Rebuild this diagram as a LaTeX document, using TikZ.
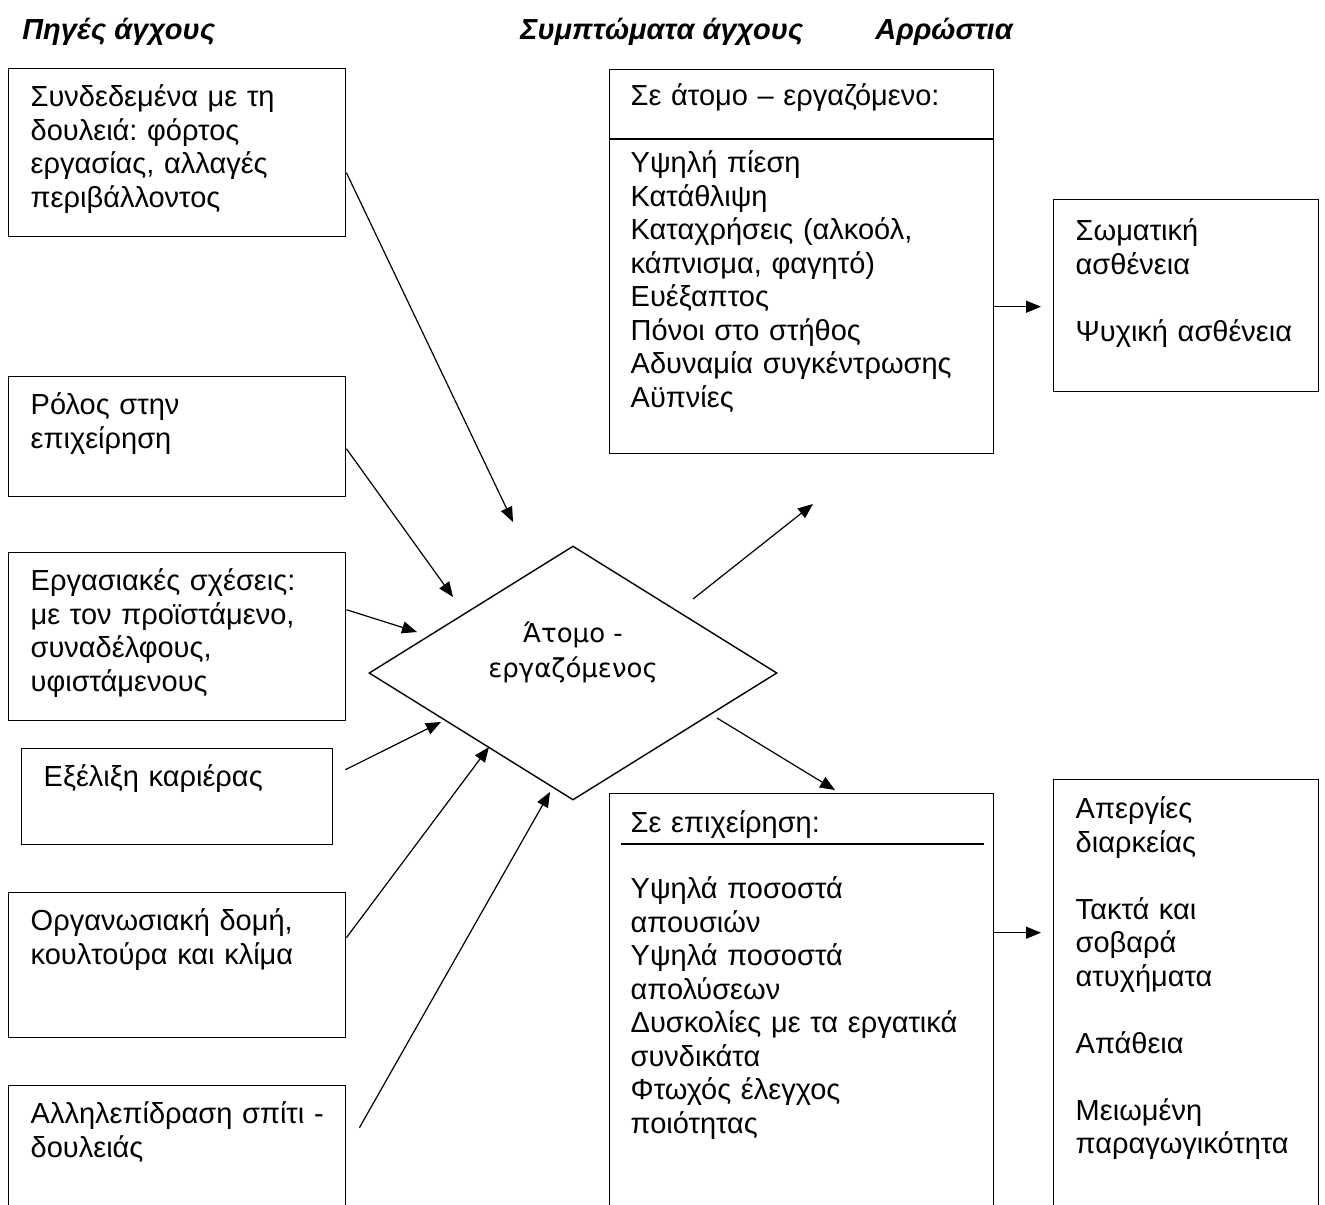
\documentclass[tikz,border=0pt]{standalone}
\usepackage{fontspec}
\setmainfont{Liberation Sans}
\newfontfamily\diamondfont{DejaVu Sans}
\usetikzlibrary{shapes.geometric, arrows.meta, calc}
\frenchspacing

\begin{document}
\begin{tikzpicture}[
    x=0.5pt, y=-0.5pt,
    every node/.style={font=\fontsize{14.5}{16.75}\selectfont},
    title/.style={anchor=base west, inner sep=0pt, font=\fontsize{14.5}{16.75}\selectfont\bfseries\itshape},
    source/.style={rectangle, draw=black, line width=0.7pt, anchor=north west, align=left, inner xsep=11pt, inner ysep=0pt, text width=146.5pt, text height=19pt},
    symptom/.style={rectangle, draw=black, line width=0.7pt, anchor=north west, align=left, inner xsep=10.5pt, inner ysep=0pt, text width=171pt},
    illness/.style={rectangle, draw=black, line width=0.7pt, anchor=north west, align=left, inner xsep=11pt, inner ysep=0pt, text width=110.5pt},
    person/.style={diamond, draw=black, line width=0.7pt, aspect=1.6, minimum width=204pt, minimum height=127pt, inner sep=0pt, text height=14pt, text depth=10pt, align=center, font=\diamondfont\fontsize{13}{17.5}\selectfont},
    arrow/.style={line width=0.6pt, -{Triangle[length=7.5pt,width=6pt]}},
]
    \useasboundingbox (0,0) rectangle (1325,1204);

    % column titles
    \node (title_src) [title] at (22,40) {Πηγές άγχους};
    \node (title_sym) [title] at (520,40) {Συμπτώματα άγχους};
    \node (title_dis) [title] at (875,40) {Αρρώστια};

    % sources of stress
    \node (src_job) [source, text depth=65pt] at (8,68) {Συνδεδεμένα με τη\\δουλειά: φόρτος\\εργασίας, αλλαγές\\περιβάλλοντος};
    \node (src_role) [source, text depth=41pt] at (8,376) {Ρόλος στην\\επιχείρηση};
    \node (src_rel) [source, text depth=65pt] at (8,552) {Εργασιακές σχέσεις:\\με τον προϊστάμενο,\\συναδέλφους,\\υφιστάμενους};
    \node (src_career) [source, text width=133.5pt, text depth=29pt] at (21,748) {Εξέλιξη καριέρας};
    \node (src_org) [source, text depth=53.5pt] at (8,892) {Οργανωσιακή δομή,\\κουλτούρα και κλίμα};
    \node (src_home) [source, text depth=41.5pt] at (8,1085) {\mbox{Αλληλεπίδραση σπίτι -}\\δουλειάς};

    % the individual
    \node (person) [person] at (573,673) {Άτομο -\\εργαζόμενος};

    % symptoms
    \node (sym_person) [symptom, text height=18pt, text depth=174pt] at (609,69) {Σε άτομο – εργαζόμενο:\\[16.75pt]Υψηλή πίεση\\Κατάθλιψη\\Καταχρήσεις (αλκοόλ,\\κάπνισμα, φαγητό)\\Ευέξαπτος\\Πόνοι στο στήθος\\Αδυναμία συγκέντρωσης\\Αϋπνίες};
    \draw [line width=0.7pt] ($(sym_person.north west)+(0,70)$) -- ($(sym_person.north east)+(0,70)$);
    \node (sym_firm) [symptom, text height=19.5pt, text depth=187pt] at (609,793) {Σε επιχείρηση:\\[16.25pt]Υψηλά ποσοστά\\απουσιών\\Υψηλά ποσοστά\\απολύσεων\\Δυσκολίες με τα εργατικά\\συνδικάτα\\Φτωχός έλεγχος\\ποιότητας};
    \draw [line width=0.7pt] ($(sym_firm.north west)+(12,51)$) -- ($(sym_firm.north east)+(-10,51)$);

    % illness
    \node (dis_body) [illness, text height=20.5pt, text depth=75.5pt] at (1053,199) {Σωματική\\ασθένεια\\[16.75pt]Ψυχική ασθένεια};
    \node (dis_firm) [illness, text height=19.5pt, text depth=194pt] at (1053,779) {Απεργίες\\διαρκείας\\[16.75pt]Τακτά και\\σοβαρά\\ατυχήματα\\[16.75pt]Απάθεια\\[16.75pt]Μειωμένη\\παραγωγικότητα};

    % arrow ends
    \coordinate (to_job) at (513,522);
    \coordinate (to_role) at (453,597);
    \coordinate (to_rel) at (417,632);
    \coordinate (to_career) at (441,722);
    \coordinate (to_org) at (489,747);
    \coordinate (to_home) at (550,792);
    \coordinate (to_sym_person) at (813,504);
    \coordinate (to_sym_firm) at (835,790);

    \draw [arrow] ($(src_job.east)+(0,20)$) -- (to_job);
    \draw [arrow] ($(src_role.east)+(0,12)$) -- (to_role);
    \draw [arrow] ($(src_rel.east)+(0,-27)$) -- (to_rel);
    \draw [arrow] ($(src_career.east)+(12,-27)$) -- (to_career);
    \draw [arrow] ($(src_org.east)+(0,-27.5)$) -- (to_org);
    \draw [arrow] ($(src_home.east)+(13,-18.5)$) -- (to_home);
    \draw [arrow] ($(person)+(120,-74)$) -- (to_sym_person);
    \draw [arrow] ($(person)+(144,45)$) -- (to_sym_firm);
    \draw [arrow] ($(sym_person.east)+(0,45)$) -- ($(dis_body.west)+(-12,11)$);
    \draw [arrow] ($(sym_firm.east)+(0,-67.5)$) -- ($(dis_firm.west)+(-12,-60.5)$);

\end{tikzpicture}
\end{document}
